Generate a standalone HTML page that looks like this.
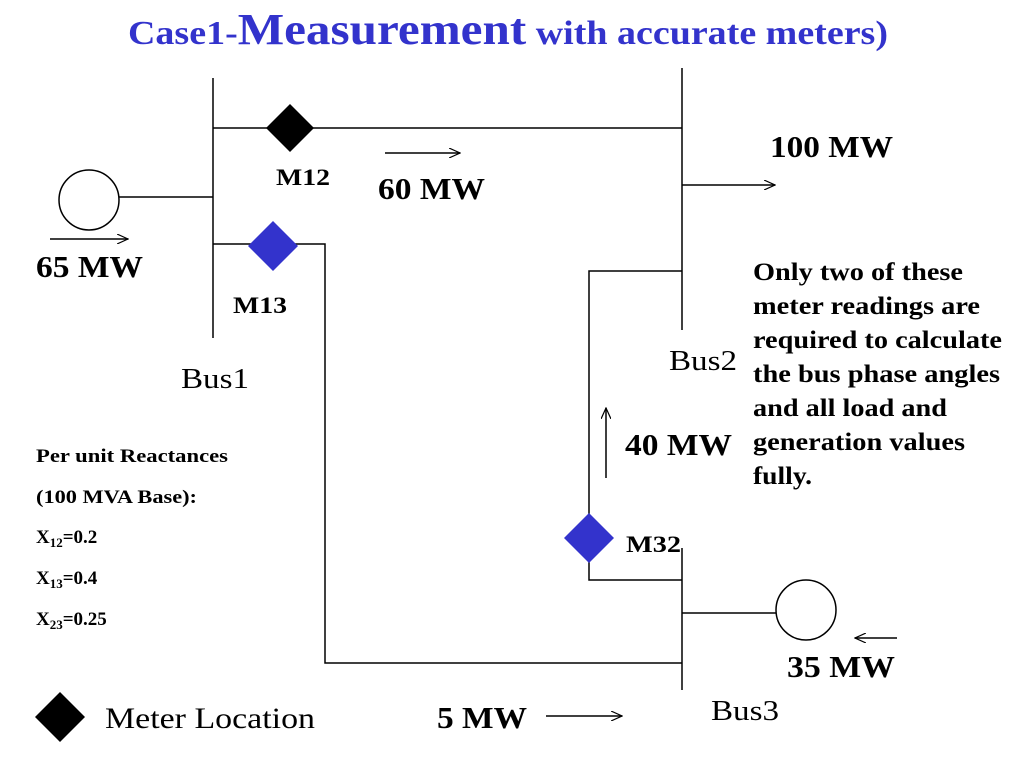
<!DOCTYPE html>
<html><head><meta charset="utf-8"><style>
html,body{margin:0;padding:0;background:#fff;}
svg text{font-family:"Liberation Serif",serif;}
</style></head><body>
<svg width="1024" height="768" viewBox="0 0 1024 768" xmlns="http://www.w3.org/2000/svg">
<defs><marker id="a" markerWidth="12" markerHeight="10" refX="11" refY="5" orient="auto" markerUnits="userSpaceOnUse"><path d="M0,0 L11,5 L0,10" fill="none" stroke="#000" stroke-width="1.2"/></marker></defs>
<text x="128" y="44" textLength="760" lengthAdjust="spacingAndGlyphs" fill="#3333cc" font-weight="bold" font-size="34">Case1-<tspan font-size="44">Measurement</tspan> with accurate meters)</text>
<g stroke="#000" stroke-width="1.5" fill="none">
<line x1="213" y1="78" x2="213" y2="338"/>
<line x1="213" y1="128" x2="682" y2="128"/>
<line x1="682" y1="68" x2="682" y2="330"/>
<circle cx="89" cy="200" r="30"/>
<line x1="119" y1="197" x2="213" y2="197"/>
<line x1="50" y1="239" x2="128" y2="239" marker-end="url(#a)"/>
<line x1="385" y1="153" x2="460" y2="153" marker-end="url(#a)"/>
<polyline points="213,244 325,244 325,663 682,663"/>
<line x1="682" y1="185" x2="775" y2="185" marker-end="url(#a)"/>
<polyline points="682,271 589,271 589,580 682,580"/>
<line x1="682" y1="548" x2="682" y2="690"/>
<line x1="682" y1="613" x2="776" y2="613"/>
<circle cx="806" cy="610" r="30"/>
<line x1="897" y1="638" x2="855" y2="638" marker-end="url(#a)"/>
<line x1="606" y1="478" x2="606" y2="408" marker-end="url(#a)"/>
<line x1="546" y1="716" x2="622" y2="716" marker-end="url(#a)"/>
</g>
<polygon points="290,104 314,128 290,152 266,128" fill="#000"/>
<polygon points="273,221 298,246 273,271 248,246" fill="#3333cc"/>
<polygon points="589,513 614,538 589,563 564,538" fill="#3333cc"/>
<polygon points="60,692 85,717 60,742 35,717" fill="#000"/>
<g font-weight="bold" fill="#000" lengthAdjust="spacingAndGlyphs">
<text x="36" y="277" font-size="31" textLength="107" lengthAdjust="spacingAndGlyphs">65 MW</text>
<text x="276" y="185" font-size="23" textLength="54" lengthAdjust="spacingAndGlyphs">M12</text>
<text x="378" y="199" font-size="31" textLength="107" lengthAdjust="spacingAndGlyphs">60 MW</text>
<text x="233" y="313" font-size="23" textLength="54" lengthAdjust="spacingAndGlyphs">M13</text>
<text x="770" y="157" font-size="31" textLength="123" lengthAdjust="spacingAndGlyphs">100 MW</text>
<text x="625" y="455" font-size="31" textLength="107" lengthAdjust="spacingAndGlyphs">40 MW</text>
<text x="626" y="552" font-size="23" textLength="55" lengthAdjust="spacingAndGlyphs">M32</text>
<text x="787" y="677" font-size="31" textLength="108" lengthAdjust="spacingAndGlyphs">35 MW</text>
<text x="437" y="728" font-size="31" textLength="90" lengthAdjust="spacingAndGlyphs">5 MW</text>
<g font-size="25">
<text x="753" y="280" textLength="210" lengthAdjust="spacingAndGlyphs">Only two of these</text>
<text x="753" y="314" textLength="227" lengthAdjust="spacingAndGlyphs">meter readings are</text>
<text x="753" y="348" textLength="249" lengthAdjust="spacingAndGlyphs">required to calculate</text>
<text x="753" y="382" textLength="247" lengthAdjust="spacingAndGlyphs">the bus phase angles</text>
<text x="753" y="416" textLength="194" lengthAdjust="spacingAndGlyphs">and all load and</text>
<text x="753" y="450" textLength="212" lengthAdjust="spacingAndGlyphs">generation values</text>
<text x="753" y="484" textLength="59" lengthAdjust="spacingAndGlyphs">fully.</text>
</g>
<g font-size="19">
<text x="36" y="462" textLength="192" lengthAdjust="spacingAndGlyphs">Per unit Reactances</text>
<text x="36" y="503" textLength="161" lengthAdjust="spacingAndGlyphs">(100 MVA Base):</text>
<text x="36" y="543">X<tspan font-size="13" dy="4">12</tspan><tspan dy="-4">=0.2</tspan></text>
<text x="36" y="584">X<tspan font-size="13" dy="4">13</tspan><tspan dy="-4">=0.4</tspan></text>
<text x="36" y="625">X<tspan font-size="13" dy="4">23</tspan><tspan dy="-4">=0.25</tspan></text>
</g>
</g>
<g fill="#000" font-size="28">
<text x="181" y="388" textLength="68" lengthAdjust="spacingAndGlyphs">Bus1</text>
<text x="669" y="370" textLength="68" lengthAdjust="spacingAndGlyphs">Bus2</text>
<text x="711" y="720" textLength="68" lengthAdjust="spacingAndGlyphs">Bus3</text>
<text x="105" y="728" font-size="30" textLength="210" lengthAdjust="spacingAndGlyphs">Meter Location</text>
</g>
</svg>
</body></html>
